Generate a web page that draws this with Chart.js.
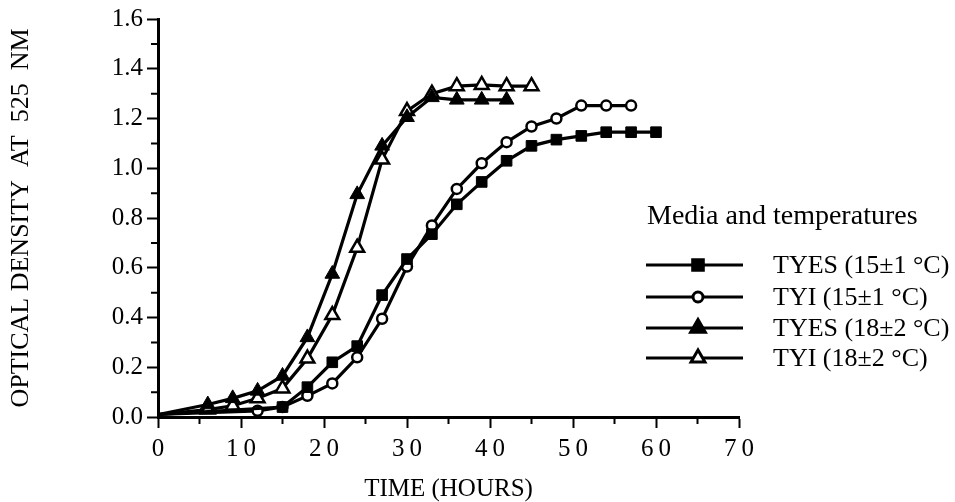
<!DOCTYPE html>
<html>
<head>
<meta charset="utf-8">
<script src="https://cdn.jsdelivr.net/npm/chart.js@4.4.1/dist/chart.umd.min.js"></script>
<style>
  html, body { margin: 0; padding: 0; background: #fff; }
</style>
</head>
<body>
<canvas id="odChart" width="955" height="502"></canvas>
<script>
// --- values ---
const hoursTyes15 = [0, 15, 18, 21, 24, 27, 30, 33, 36, 39, 42, 45, 48, 51, 54, 57, 60];
const odTyes15 = [0.01, 0.04, 0.12, 0.22, 0.285, 0.49, 0.635, 0.735, 0.855, 0.945, 1.03, 1.09, 1.115, 1.13, 1.145, 1.145, 1.145];

const hoursTyi15 = [0, 12, 15, 18, 21, 24, 27, 30, 33, 36, 39, 42, 45, 48, 51, 54, 57];
const odTyi15 = [0.01, 0.025, 0.04, 0.085, 0.135, 0.24, 0.395, 0.605, 0.77, 0.917, 1.02, 1.105, 1.168, 1.2, 1.252, 1.252, 1.252];

const hoursTyes18 = [0, 6, 9, 12, 15, 18, 21, 24, 27, 30, 33, 36, 39, 42];
const odTyes18 = [0.01, 0.05, 0.075, 0.105, 0.165, 0.32, 0.575, 0.895, 1.09, 1.205, 1.285, 1.275, 1.275, 1.275];

const hoursTyi18 = [0, 6, 9, 12, 15, 18, 21, 24, 27, 30, 33, 36, 39, 42, 45];
const odTyi18 = [0.01, 0.03, 0.045, 0.075, 0.115, 0.235, 0.41, 0.68, 1.035, 1.23, 1.3, 1.33, 1.335, 1.33, 1.33];

const seriesLabels = ['TYES (15\u00b11 \u00b0C)', 'TYI (15\u00b11 \u00b0C)', 'TYES (18\u00b12 \u00b0C)', 'TYI (18\u00b12 \u00b0C)'];
const legendTitle = 'Media and temperatures';
const xTitle = 'TIME (HOURS)';
const yTitle = 'OPTICAL DENSITY  AT  525  NM';
const xMinorTicks = [5, 15, 25, 35, 45, 55, 65];
const yMinorTicks = [0.1, 0.3, 0.5, 0.7, 0.9, 1.1, 1.3, 1.5];

const SERIF = "'Liberation Serif', 'Times New Roman', serif";

function toPoints(xs, ys) {
  return xs.map((x, i) => ({ x: x, y: ys[i] }));
}

const markers = [
  { pointStyle: 'rect', radius: 7.5, fill: '#000', border: 1 },
  { pointStyle: 'circle', radius: 5, fill: '#fff', border: 2.5 },
  { pointStyle: 'triangle', radius: 8.5, fill: '#000', border: 1 },
  { pointStyle: 'triangle', radius: 8, fill: '#fff', border: 2.5 }
];

const allData = [
  toPoints(hoursTyes15, odTyes15),
  toPoints(hoursTyi15, odTyi15),
  toPoints(hoursTyes18, odTyes18),
  toPoints(hoursTyi18, odTyi18)
];

const datasets = allData.map((pts, i) => ({
  label: seriesLabels[i],
  data: pts,
  borderColor: '#000',
  borderWidth: 3.2,
  tension: 0,
  pointStyle: markers[i].pointStyle,
  pointRadius: ctx => ctx.dataIndex === 0 ? 0 : markers[i].radius,
  pointBackgroundColor: markers[i].fill,
  pointBorderColor: '#000',
  pointBorderWidth: markers[i].border
}));

// minor ticks on both axes
const minorTicks = {
  id: 'minorTicks',
  afterDraw(chart) {
    const ctx = chart.ctx;
    const xs = chart.scales.x, ys = chart.scales.y;
    const area = chart.chartArea;
    ctx.save();
    ctx.strokeStyle = '#000';
    ctx.lineWidth = 2;
    ctx.beginPath();
    xMinorTicks.forEach(v => {
      const px = xs.getPixelForValue(v);
      ctx.moveTo(px, area.bottom);
      ctx.lineTo(px, area.bottom + 7);
    });
    yMinorTicks.forEach(v => {
      const py = ys.getPixelForValue(v);
      ctx.moveTo(area.left, py);
      ctx.lineTo(area.left - 7, py);
    });
    ctx.stroke();
    ctx.restore();
  }
};

// legend drawn inside the plot, on the right
const figureLegend = {
  id: 'figureLegend',
  afterDraw(chart) {
    const ctx = chart.ctx;
    const rows = [265, 297, 328, 358];
    ctx.save();
    ctx.fillStyle = '#000';
    ctx.font = '28px ' + SERIF;
    ctx.textBaseline = 'alphabetic';
    ctx.fillText(legendTitle, 647, 224);
    ctx.font = '26px ' + SERIF;
    rows.forEach((y, i) => {
      ctx.strokeStyle = '#000';
      ctx.lineWidth = 3;
      ctx.beginPath();
      ctx.moveTo(646, y);
      ctx.lineTo(743, y);
      ctx.stroke();
      ctx.fillStyle = markers[i].fill;
      ctx.strokeStyle = '#000';
      Chart.helpers.drawPoint(ctx, {
        pointStyle: markers[i].pointStyle,
        radius: markers[i].radius,
        rotation: 0,
        borderWidth: markers[i].border
      }, 698, y);
      ctx.fillStyle = '#000';
      ctx.fillText(seriesLabels[i], 773, y + 8);
    });
    ctx.restore();
  }
};

new Chart(document.getElementById('odChart'), {
  type: 'line',
  data: { datasets: datasets },
  plugins: [minorTicks, figureLegend],
  options: {
    responsive: false,
    animation: false,
    layout: { padding: { left: 0, right: 216, top: 17, bottom: 0 } },
    plugins: {
      legend: { display: false },
      tooltip: { enabled: false }
    },
    scales: {
      x: {
        type: 'linear',
        min: 0,
        max: 70,
        afterFit: s => { s.height = 85; },
        ticks: {
          stepSize: 10,
          color: '#000',
          padding: 6,
          font: { family: SERIF, size: 25 },
          maxRotation: 0,
          callback: v => String(v).split('').join('\u2009')
        },
        grid: { drawOnChartArea: false, drawTicks: true, tickLength: 11, tickColor: '#000', tickWidth: 2 },
        border: { display: true, color: '#000', width: 3 },
        title: {
          display: true,
          text: xTitle,
          color: '#000',
          font: { family: SERIF, size: 25, lineHeight: 1 },
          padding: 0
        }
      },
      y: {
        type: 'linear',
        min: 0,
        max: 1.6,
        afterFit: s => { s.width = 158; },
        ticks: {
          stepSize: 0.2,
          color: '#000',
          padding: 4,
          font: { family: SERIF, size: 25 },
          callback: v => v.toFixed(1)
        },
        grid: { drawOnChartArea: false, drawTicks: true, tickLength: 11, tickColor: '#000', tickWidth: 2 },
        border: { display: true, color: '#000', width: 3 },
        title: {
          display: true,
          text: yTitle,
          color: '#000',
          font: { family: SERIF, size: 26, lineHeight: 1.2 },
          padding: { top: 6, bottom: 0 }
        }
      }
    }
  }
});
</script>
</body>
</html>
